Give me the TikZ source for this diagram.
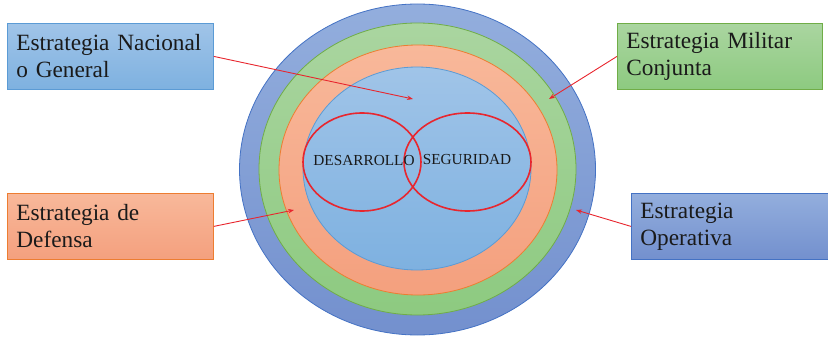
\documentclass[tikz,border=0pt]{standalone}
\usepackage{fontspec}
\setmainfont{Liberation Serif}
\usetikzlibrary{arrows.meta,shapes.geometric}
\definecolor{obTop}{HTML}{93AEDD}\definecolor{obBot}{HTML}{7390CE}\definecolor{obLine}{HTML}{4472C4}
\definecolor{grTop}{HTML}{AAD5A0}\definecolor{grBot}{HTML}{8DCA80}\definecolor{grLine}{HTML}{70AD47}
\definecolor{orTop}{HTML}{F8B89A}\definecolor{orBot}{HTML}{F4A07E}\definecolor{orLine}{HTML}{ED7D31}
\definecolor{ibTop}{HTML}{A0C4E8}\definecolor{ibBot}{HTML}{7EB1E0}\definecolor{ibLine}{HTML}{5B9BD5}
\definecolor{redL}{HTML}{E8262E}
\definecolor{txt}{HTML}{1A1A1A}
\begin{document}
\begin{tikzpicture}[x=1pt,y=-1pt,
  ring/.style={ellipse, draw, line width=0.8pt, inner sep=0pt},
  venn/.style={ellipse, draw=redL, line width=1.6pt, inner sep=0pt},
  vtext/.style={font=\fontsize{15.3}{17}\selectfont, text=txt, inner sep=0pt},
  lbox/.style={rectangle, draw, line width=0.8pt, minimum height=66pt, inner xsep=9pt, inner ysep=0pt,
     align=left, font=\fontsize{23.3}{27}\selectfont, text=txt, anchor=north west},
  redarrow/.style={draw=redL, line width=0.9pt, -{Stealth[length=6pt,width=4.5pt]}}
]
\useasboundingbox (0,0) rectangle (828,337);
% concentric rings
\node[ring, draw=obLine, top color=obTop, bottom color=obBot, minimum width=356pt, minimum height=331pt] (outer) at (417.5,169.5) {};
\node[ring, draw=grLine, top color=grTop, bottom color=grBot, minimum width=317pt, minimum height=292pt] (green) at (417.5,169) {};
\node[ring, draw=orLine, top color=orTop, bottom color=orBot, minimum width=278pt, minimum height=250pt] (orange) at (418,170) {};
\node[ring, draw=ibLine, top color=ibTop, bottom color=ibBot, minimum width=228pt, minimum height=203pt] (inner) at (417,168.5) {};
% venn
\node[venn, minimum width=118pt, minimum height=98pt] (vl) at (362,162) {};
\node[venn, minimum width=127pt, minimum height=98pt] (vr) at (467.5,162) {};
\node[vtext] (tdes) at (364,161) {DESARROLLO};
\node[vtext] (tseg) at (467,160) {SEGURIDAD};
% boxes
\node[lbox, draw=ibLine, top color=ibTop, bottom color=ibBot, minimum width=206pt, text width=188pt] (nac) at (7,23) {Estrategia Nacional\\o General};
\node[lbox, draw=orLine, top color=orTop, bottom color=orBot, minimum width=206pt, text width=188pt] (def) at (7,193) {Estrategia de\\Defensa};
\node[lbox, draw=grLine, top color=grTop, bottom color=grBot, minimum width=205pt, text width=187pt] (mil) at (617,23) {Estrategia Militar\\Conjunta};
\node[lbox, draw=obLine, top color=obTop, bottom color=obBot, minimum width=199pt, text width=181pt] (ope) at (631,193) {Estrategia\\Operativa};
% arrow targets
\coordinate (nacT) at (413,99);
\coordinate (defT) at (294,210);
\coordinate (milT) at (549,99);
\coordinate (opeT) at (576,210);
\draw[redarrow] (nac.east) -- (nacT);
\draw[redarrow] (def.east) -- (defT);
\draw[redarrow] (mil.west) -- (milT);
\draw[redarrow] (ope.west) -- (opeT);
\end{tikzpicture}
\end{document}
